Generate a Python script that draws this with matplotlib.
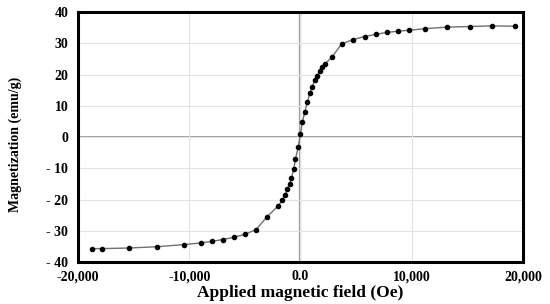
import matplotlib
matplotlib.use("Agg")
import matplotlib.pyplot as plt

field = [-18760, -17860, -15370, -12910, -10450, -8980, -7990, -7000, -6010, -4980,
         -3990, -3000, -2000, -1620, -1410, -1170, -960, -810, -600, -450, -210,
         0, 180, 390, 630, 840, 1050, 1290, 1500, 1740, 1980, 2190, 2800, 3700,
         4700, 5770, 6760, 7750, 8740, 9730, 11170, 13150, 15200, 17200, 19280]
magnetization = [-35.7, -35.7, -35.5, -35.1, -34.4, -33.9, -33.4, -32.8, -32.1, -31.1,
                 -29.6, -25.5, -22.0, -20.2, -18.6, -16.7, -15.0, -13.2, -10.2, -7.1, -3.3,
                 1.0, 4.9, 8.1, 11.3, 14.0, 16.1, 18.2, 19.6, 21.2, 22.5, 23.4, 25.5, 29.8,
                 31.2, 32.2, 32.9, 33.5, 33.9, 34.2, 34.7, 35.2, 35.4, 35.6, 35.5]
xticks = [-20000, -10000, 0, 10000, 20000]
xtick_labels = ["-20,000", "-10,000", "0.0", "10,000", "20,000"]
yticks = [-40, -30, -20, -10, 0, 10, 20, 30, 40]
ytick_labels = ["- 40", "- 30", "- 20", "- 10", "0", "10", "20", "30", "40"]

plt.rcParams['font.family'] = ['Liberation Serif', 'DejaVu Serif']

fig = plt.figure(figsize=(5.5, 3.04), dpi=100)
ax = fig.add_axes([0.1418, 0.138, 0.809, 0.822])

ax.plot(field, magnetization, color='#707070', linewidth=1.0, zorder=3)
ax.plot(field, magnetization, linestyle='none', marker='o', markersize=3.0,
        color='black', zorder=4)

ax.set_xlim(-20000, 20000)
ax.set_ylim(-40, 40)
ax.set_xticks(xticks)
ax.set_xticklabels(xtick_labels, fontweight='bold', fontsize=10)
ax.set_yticks(yticks)
ax.set_yticklabels(ytick_labels, fontweight='bold', fontsize=10)
ax.tick_params(axis='y', length=0, pad=7)
ax.tick_params(axis='x', length=0, pad=6)

ax.grid(True, color='#e2e2e2', linewidth=0.8, zorder=0)
ax.axhline(0, color='#999999', linewidth=1.3, zorder=1)
ax.axvline(0, color='#999999', linewidth=1.6, zorder=1)

for s in ax.spines.values():
    s.set_linewidth(2.2)
    s.set_color('black')

ax.set_xlabel("Applied magnetic field (Oe)", fontweight='bold', fontsize=12.5, labelpad=1)
ax.set_ylabel("Magnetization (emu/g)", fontweight='bold', fontsize=10)
ax.yaxis.set_label_coords(-0.125, 0.47)

fig.savefig("out.png", dpi=100)
